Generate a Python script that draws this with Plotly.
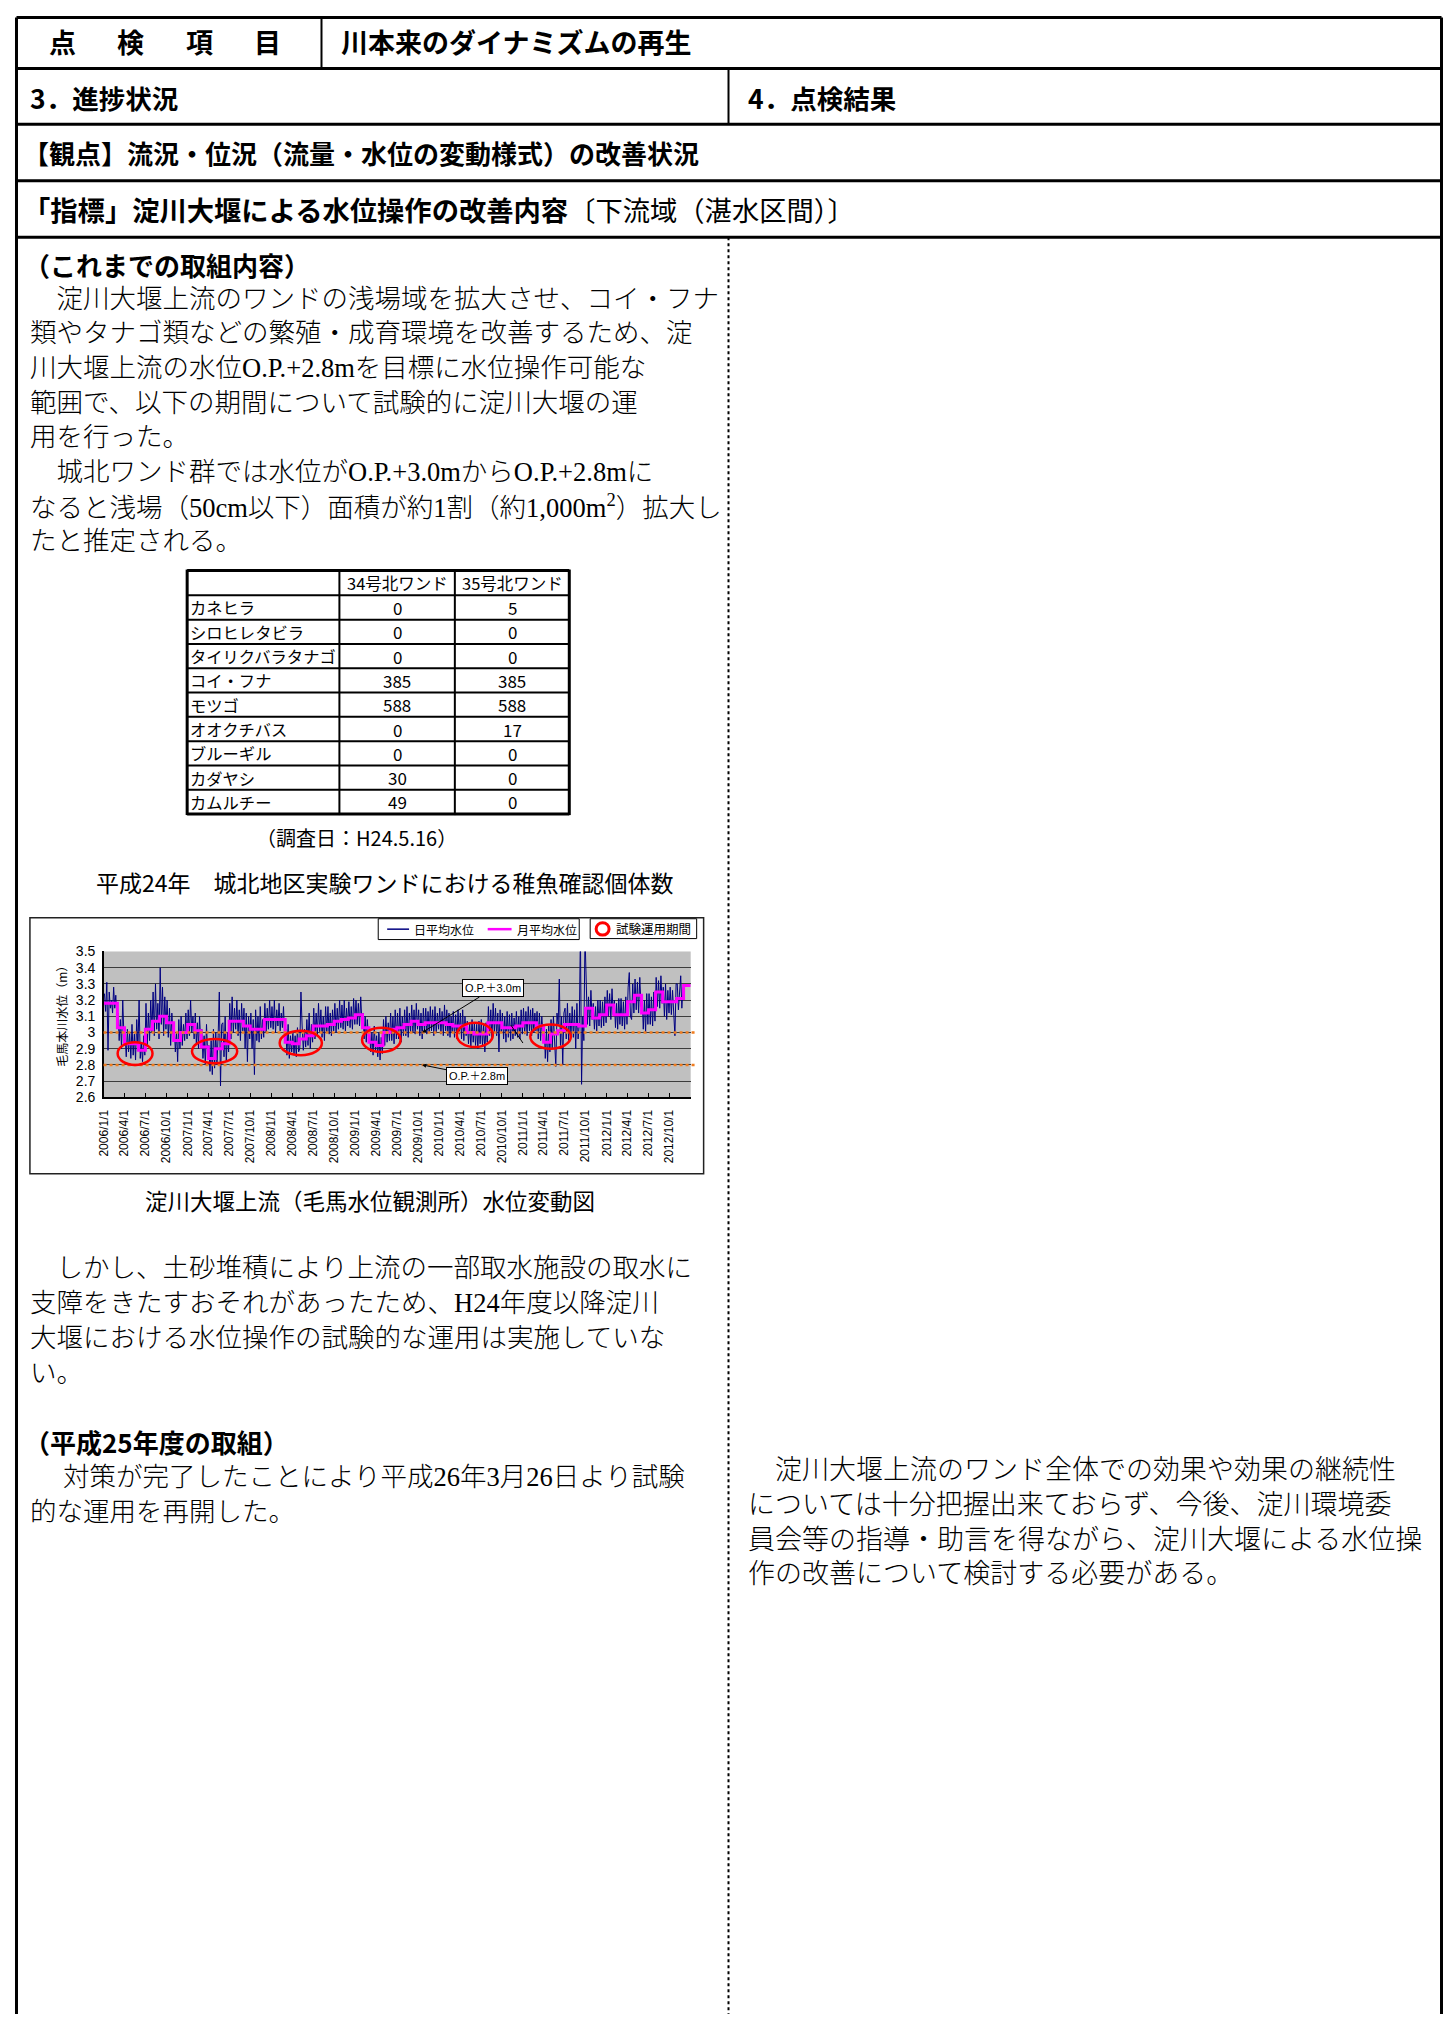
import pandas as pd
import plotly.graph_objects as go

# the page body keeps its 8px margin, so the figure sits at (8, 8) on the page
OX, OY = 8, 8
W, H = 1435, 2006
PAGE_H = 2022


def px(x):
    return (x - OX) / W


def py(y):
    return 1 - (y - OY) / H


GOTHIC = "Noto Sans CJK JP"
BODY = "Liberation Serif, Noto Sans CJK JP"
ARIAL = "Liberation Sans, Noto Sans CJK JP"

# ---------------- table: 稚魚確認個体数 (H24.5.16)
fish = ["カネヒラ", "シロヒレタビラ", "タイリクバラタナゴ", "コイ・フナ", "モツゴ",
        "オオクチバス", "ブルーギル", "カダヤシ", "カムルチー"]
wand34 = [0, 0, 0, 385, 588, 0, 0, 30, 49]
wand35 = [5, 0, 0, 385, 588, 17, 0, 0, 0]
table_head = ["", "34号北ワンド", "35号北ワンド"]

# ---------------- 毛馬水位 (m), monthly means 2006/1 - 2012/12
monthly_2006 = [3.18, 3.18, 3.03, 2.93, 2.93, 2.89, 3.02, 3.07, 3.10, 3.06, 2.95, 3.00]
monthly_2007 = [3.05, 3.01, 2.91, 2.84, 2.90, 2.93, 3.07, 3.07, 3.04, 3.02, 3.02, 3.08]
monthly_2008 = [3.08, 3.08, 2.94, 2.93, 2.96, 2.98, 3.04, 3.04, 3.05, 3.07, 3.08, 3.09]
monthly_2009 = [3.11, 3.03, 2.94, 2.92, 3.00, 3.02, 3.03, 3.05, 3.07, 3.05, 3.06, 3.06]
monthly_2010 = [3.06, 3.05, 3.04, 3.04, 3.00, 2.99, 2.99, 3.06, 3.06, 3.03, 3.03, 3.04]
monthly_2011 = [3.06, 3.06, 3.04, 2.94, 2.99, 3.01, 3.05, 3.05, 3.04, 3.15, 3.09, 3.11]
monthly_2012 = [3.17, 3.11, 3.11, 3.19, 3.23, 3.12, 3.14, 3.25, 3.19, 3.19, 3.21, 3.29]

# daily levels, read roughly as 6 readings per month
daily_2006 = [
    3.24, 3.13, 3.31, 2.89, 3.25, 3.15,
    3.20, 3.12, 3.28, 3.15, 3.23, 3.10,
    3.12, 2.95, 3.08, 2.90, 3.20, 2.98,
    2.98, 2.85, 3.02, 2.88, 3.00, 2.84,
    3.05, 2.86, 2.99, 2.83, 3.08, 2.90,
    3.20, 2.84, 2.93, 2.82, 2.98, 2.86,
    3.18, 2.92, 3.12, 2.95, 3.20, 3.00,
    3.25, 2.98, 3.30, 3.02, 3.18, 2.96,
    3.40, 3.05, 3.28, 2.98, 3.22, 3.02,
    3.20, 2.97, 3.15, 2.92, 3.12, 2.99,
    3.05, 2.88, 3.00, 2.82, 3.08, 2.90,
    3.10, 2.92, 3.05, 2.95, 3.12, 2.96]
daily_2007 = [
    3.14, 2.98, 3.20, 3.00, 3.10, 2.96,
    3.12, 2.93, 3.06, 2.90, 3.10, 2.95,
    3.02, 2.84, 2.98, 2.80, 3.05, 2.86,
    2.92, 2.76, 2.95, 2.74, 3.02, 2.78,
    3.00, 2.80, 2.98, 3.25, 2.67, 3.05,
    3.06, 2.85, 3.10, 2.82, 3.00, 2.88,
    3.18, 2.96, 3.22, 3.00, 3.15, 3.02,
    3.20, 2.98, 3.14, 2.95, 3.18, 3.01,
    3.15, 2.90, 3.12, 2.82, 3.10, 2.96,
    3.12, 2.90, 3.08, 2.74, 3.14, 2.95,
    3.10, 2.94, 3.16, 2.96, 3.08, 2.97,
    3.18, 3.00, 3.15, 3.02, 3.20, 3.03]
daily_2008 = [
    3.16, 3.02, 3.20, 3.00, 3.14, 3.04,
    3.18, 3.01, 3.12, 3.03, 3.16, 2.98,
    3.02, 2.86, 3.05, 2.84, 2.98, 2.88,
    3.00, 2.86, 2.98, 2.85, 3.03, 2.88,
    2.90, 3.25, 3.04, 2.89, 3.02, 2.91,
    3.08, 2.92, 3.12, 2.90, 3.05, 2.94,
    3.15, 2.96, 3.12, 2.98, 3.18, 3.00,
    3.14, 2.97, 3.10, 2.95, 3.16, 3.00,
    3.16, 2.99, 3.12, 2.98, 3.14, 3.01,
    3.18, 3.00, 3.15, 3.02, 3.20, 3.03,
    3.17, 3.02, 3.20, 3.01, 3.15, 3.04,
    3.19, 3.03, 3.16, 3.02, 3.21, 3.05]
daily_2009 = [
    3.20, 3.05, 3.18, 3.04, 3.22, 3.06,
    3.12, 2.96, 3.10, 2.94, 3.08, 2.98,
    3.02, 2.88, 3.00, 2.86, 3.04, 2.89,
    2.98, 2.85, 3.00, 2.83, 2.97, 2.87,
    3.08, 2.92, 3.10, 2.94, 3.06, 2.95,
    3.12, 2.95, 3.10, 2.93, 3.14, 2.96,
    3.12, 2.96, 3.15, 2.94, 3.10, 2.98,
    3.14, 2.98, 3.16, 2.97, 3.12, 3.00,
    3.17, 3.00, 3.14, 2.99, 3.18, 3.02,
    3.14, 2.98, 3.12, 2.96, 3.15, 3.00,
    3.15, 2.99, 3.13, 3.00, 3.16, 3.01,
    3.14, 2.98, 3.16, 3.00, 3.12, 3.02]
daily_2010 = [
    3.15, 2.99, 3.13, 2.98, 3.17, 3.01,
    3.14, 2.98, 3.12, 2.97, 3.10, 3.00,
    3.13, 2.97, 3.11, 2.96, 3.14, 2.99,
    3.12, 2.96, 3.14, 2.95, 3.10, 2.98,
    3.07, 2.93, 3.06, 2.91, 3.08, 2.94,
    3.06, 2.92, 3.05, 2.90, 3.07, 2.93,
    3.08, 2.92, 3.05, 2.88, 3.06, 2.94,
    3.16, 2.98, 3.14, 2.96, 3.18, 3.00,
    3.15, 2.98, 3.12, 2.88, 3.14, 3.00,
    3.12, 2.96, 3.10, 2.94, 3.13, 2.97,
    3.11, 2.95, 3.12, 2.96, 3.09, 2.98,
    3.13, 2.97, 3.10, 2.96, 3.14, 2.99]
daily_2011 = [
    3.15, 2.99, 3.13, 2.98, 3.16, 3.01,
    3.14, 2.98, 3.15, 3.00, 3.12, 3.01,
    3.13, 2.96, 3.12, 2.95, 3.10, 2.98,
    3.05, 2.84, 3.02, 2.82, 3.04, 2.88,
    3.08, 2.90, 3.10, 2.92, 2.79, 3.12,
    3.05, 3.33, 2.92, 3.10, 2.80, 3.12,
    3.15, 2.96, 3.18, 2.95, 3.12, 2.98,
    3.16, 2.97, 3.14, 2.90, 3.18, 2.96,
    3.05, 3.62, 2.68, 3.10, 2.95, 3.60,
    3.25, 3.05, 3.22, 3.04, 3.26, 3.08,
    3.18, 3.02, 3.16, 3.01, 3.20, 3.04,
    3.20, 3.03, 3.19, 3.04, 3.22, 3.06]
daily_2012 = [
    3.26, 3.10, 3.24, 3.08, 3.27, 3.11,
    3.20, 3.03, 3.18, 3.02, 3.21, 3.05,
    3.21, 3.04, 3.19, 3.02, 3.22, 3.05,
    3.28, 3.37, 3.10, 3.08, 3.30, 3.12,
    3.33, 3.14, 3.31, 3.12, 3.34, 3.16,
    3.22, 3.02, 3.20, 3.00, 3.24, 3.05,
    3.24, 3.05, 3.22, 3.04, 3.25, 3.07,
    3.34, 3.16, 3.32, 3.15, 3.35, 3.18,
    3.28, 3.10, 3.30, 3.08, 3.26, 3.12,
    3.28, 3.11, 3.26, 3.12, 2.98, 3.30,
    3.30, 3.14, 3.28, 3.35, 3.15, 3.28]

# 試験運用期間 (circled on the chart)
test_start = ["2006-03-02", "2007-01-20", "2008-02-06", "2009-01-30", "2010-03-19", "2011-02-02"]
test_end = ["2006-08-01", "2007-08-05", "2008-08-08", "2009-07-17", "2010-08-23", "2011-07-29"]
test_low = [2.80, 2.81, 2.86, 2.88, 2.91, 2.90]
test_high = [2.94, 2.96, 3.01, 3.03, 3.06, 3.05]

ref_levels = [3.0, 2.8]
y_ticks = [2.6, 2.7, 2.8, 2.9, 3.0, 3.1, 3.2, 3.3, 3.4, 3.5]
y_ticktext = ["2.6", "2.7", "2.8", "2.9", "3", "3.1", "3.2", "3.3", "3.4", "3.5"]
years = [2006, 2007, 2008, 2009, 2010, 2011, 2012]
quarter_months = [1, 4, 7, 10]
x_tickvals = [f"{y}-{m:02d}-01" for y in years for m in quarter_months]
x_ticktext = [f"{y}/{m}/1" for y in years for m in quarter_months]

monthly = (monthly_2006 + monthly_2007 + monthly_2008 + monthly_2009
           + monthly_2010 + monthly_2011 + monthly_2012)
daily = daily_2006 + daily_2007 + daily_2008 + daily_2009 + daily_2010 + daily_2011 + daily_2012

month_starts = pd.date_range("2006-01-01", "2013-01-01", freq="MS")
per_month = 6
daily_x = []
for i in range(len(daily) // per_month):
    s, e = month_starts[i], month_starts[i + 1]
    for j in range(per_month):
        daily_x.append(s + (e - s) * (j + 0.5) / per_month)

fig = go.Figure()
fig.add_trace(go.Scatter(x=daily_x, y=daily, mode="lines", name="日平均水位",
                         line=dict(color="#000080", width=1)))
fig.add_trace(go.Scatter(x=month_starts, y=monthly + [monthly[-1]], mode="lines", name="月平均水位",
                         line=dict(color="#FF00FF", width=3, shape="hv")))

shapes = []
ann = []


def line(x0, y0, x1, y1, w=3, color="black", dash="solid"):
    shapes.append(dict(type="line", xref="paper", yref="paper", x0=px(x0), x1=px(x1),
                       y0=py(y0), y1=py(y1), line=dict(color=color, width=w, dash=dash)))


def text(x, y, s, size, family=GOTHIC, anchor="left", angle=0, weight=None):
    f = dict(family=family, size=size, color="black")
    if weight:
        f["weight"] = weight
    ann.append(dict(x=px(x), y=py(y), xref="paper", yref="paper", text=s, showarrow=False,
                    xanchor=anchor, yanchor="middle", textangle=angle, font=f))


# ---- page frame (left/top edge clipped by the body margin)
LEFT, TOP, RIGHT = 9.5, 9.5, 1441.5
line(LEFT, TOP, RIGHT, TOP)
line(LEFT, TOP, LEFT, PAGE_H)
line(RIGHT, TOP, RIGHT, PAGE_H)
for yy in [61, 117, 174, 231]:
    line(LEFT, yy, RIGHT, yy)
line(316, TOP, 316, 61, w=2)
line(725, 61, 725, 117, w=2)
line(725, 231, 725, PAGE_H, w=2, dash="dot")

# ---- header rows
for ch, cx in zip(["点", "検", "項", "目"], [56, 124, 193, 262]):
    text(cx, 34, f"<b>{ch}</b>", 27, anchor="center")
text(334, 34, "<b>川本来のダイナミズムの再生</b>", 27)
text(21, 90, "<b>3．進捗状況</b>", 26.5)
text(743, 90, "<b>4．点検結果</b>", 26.5)
text(14, 146, "<b>【観点】流況・位況（流量・水位の変動様式）の改善状況</b>", 26)
text(14, 203, "<b>「指標」淀川大堰による水位操作の改善内容</b>〔下流域（湛水区間）〕", 27.3)

# ---- left column text
text(15, 258, "<b>（これまでの取組内容）</b>", 26)
body_top = [
    "　淀川大堰上流のワンドの浅場域を拡大させ、コイ・フナ",
    "類やタナゴ類などの繁殖・成育環境を改善するため、淀",
    "川大堰上流の水位O.P.+2.8mを目標に水位操作可能な",
    "範囲で、以下の期間について試験的に淀川大堰の運",
    "用を行った。",
    "　城北ワンド群では水位がO.P.+3.0mからO.P.+2.8mに",
    "なると浅場（50cm以下）面積が約1割（約1,000m<sup>2</sup>）拡大し",
    "たと推定される。",
]
for k, s in enumerate(body_top):
    text(21, 293 + 34.9 * k, s, 26.5, family=BODY, weight=300)

# ---- table
tx = [181, 334, 450, 565]
ty = [567, 592] + [592 + 24.5 * (i + 1) for i in range(len(fish))]
for i, xx in enumerate(tx):
    line(xx, ty[0] - 1, xx, ty[-1] + 1, w=3 if i in (0, len(tx) - 1) else 2)
for i, yy in enumerate(ty):
    line(tx[0], yy, tx[-1], yy, w=3 if i in (0, len(ty) - 1) else 2)
for c in range(1, 3):
    text((tx[c] + tx[c + 1]) / 2, (ty[0] + ty[1]) / 2, table_head[c], 16.5, anchor="center")
for r in range(len(fish)):
    cy = (ty[r + 1] + ty[r + 2]) / 2
    text(tx[0] + 1, cy, fish[r], 16.3)
    text((tx[1] + tx[2]) / 2, cy, str(wand34[r]), 17, anchor="center")
    text((tx[2] + tx[3]) / 2, cy, str(wand35[r]), 17, anchor="center")
text(351, 836, "（調査日：H24.5.16）", 20, anchor="center")
text(380, 881, "平成24年　城北地区実験ワンドにおける稚魚確認個体数", 23, anchor="center")

# ---- chart frame, legend, captions
shapes.append(dict(type="rect", xref="paper", yref="paper", x0=px(23), x1=px(700),
                   y0=py(917), y1=py(1175), line=dict(color="#222", width=1.5)))
shapes.append(dict(type="rect", xref="paper", yref="paper", x0=px(373), x1=px(575),
                   y0=py(918), y1=py(939), fillcolor="white", line=dict(color="black", width=1)))
line(382, 928.5, 404, 928.5, w=1.5, color="#000080")
text(407, 928.5, "日平均水位", 12)
line(483, 928.5, 507, 928.5, w=2.5, color="#FF00FF")
text(510, 928.5, "月平均水位", 12)
shapes.append(dict(type="rect", xref="paper", yref="paper", x0=px(586), x1=px(693),
                   y0=py(918), y1=py(938), fillcolor="white", line=dict(color="black", width=1)))
shapes.append(dict(type="circle", xref="paper", yref="paper", x0=px(592), x1=px(605),
                   y0=py(922), y1=py(934.5), line=dict(color="#FF0000", width=3)))
text(610, 928, "試験運用期間", 12.5)
text(55, 1013, "毛馬本川水位（m）", 12, anchor="center", angle=-90)
text(365, 1202, "淀川大堰上流（毛馬水位観測所）水位変動図", 22.5, anchor="center")

# reference levels O.P.+3.0m / +2.8m
for lv in ref_levels:
    shapes.append(dict(type="line", xref="paper", yref="y", x0=px(97), x1=px(693), y0=lv, y1=lv,
                       line=dict(color="#F07C1E", width=2.5, dash="dot")))
for s0, s1, lo, hi in zip(test_start, test_end, test_low, test_high):
    shapes.append(dict(type="circle", xref="x", yref="y", x0=s0, x1=s1, y0=lo, y1=hi,
                       line=dict(color="#FF0000", width=2.5)))
# small pointer line near 2010/11
shapes.append(dict(type="line", xref="x", yref="y", x0="2010-11-10", y0=3.045,
                   x1="2011-01-01", y1=2.935, line=dict(color="black", width=1)))

callout = dict(showarrow=True, arrowhead=2, arrowsize=0.8, arrowwidth=1, arrowcolor="black",
               bordercolor="black", borderwidth=1, borderpad=2, bgcolor="white",
               font=dict(family=ARIAL, size=11, color="black"))
ann.append(dict(x="2009-10-19", y=3.0, text="O.P.＋3.0m", ax=71, ay=-44, **callout))
ann.append(dict(x="2009-10-19", y=2.8, text="O.P.＋2.8m", ax=55, ay=11, **callout))

# ---- lower texts
body_low = [
    "　しかし、土砂堆積により上流の一部取水施設の取水に",
    "支障をきたすおそれがあったため、H24年度以降淀川",
    "大堰における水位操作の試験的な運用は実施していな",
    "い。",
]
for k, s in enumerate(body_low):
    text(21, 1270 + 35.2 * k, s, 26.5, family=BODY, weight=300)
text(15, 1445, "<b>（平成25年度の取組）</b>", 26)
text(21, 1481, "　 対策が完了したことにより平成26年3月26日より試験", 26.5, family=BODY, weight=300)
text(21, 1516, "的な運用を再開した。", 26.5, family=BODY, weight=300)

body_right = [
    "　淀川大堰上流のワンド全体での効果や効果の継続性",
    "については十分把握出来ておらず、今後、淀川環境委",
    "員会等の指導・助言を得ながら、淀川大堰による水位操",
    "作の改善について検討する必要がある。",
]
for k, s in enumerate(body_right):
    text(743, 1474 + 35 * k, s, 27, family=BODY, weight=300)

fig.update_layout(
    width=W, height=H, margin=dict(l=0, r=0, t=0, b=0),
    paper_bgcolor="white", plot_bgcolor="#C0C0C0", showlegend=False,
    shapes=shapes, annotations=ann,
    xaxis=dict(domain=[px(97.3), px(687)], type="date", range=["2006-01-01", "2013-01-01"],
               tickvals=x_tickvals, ticktext=x_ticktext, tickangle=-90,
               ticks="inside", ticklen=5, tickcolor="black", ticklabelstandoff=6,
               showline=True, linecolor="black", linewidth=1.5, showgrid=False, zeroline=False,
               tickfont=dict(family=ARIAL, size=12, color="black")),
    yaxis=dict(domain=[py(1098), py(951)], range=[2.6, 3.5],
               tickvals=y_ticks, ticktext=y_ticktext, ticks="", ticklabelstandoff=4,
               showline=True, linecolor="black", linewidth=1.5, zeroline=False,
               showgrid=True, gridcolor="#3c3c3c", gridwidth=1.3,
               tickfont=dict(family=ARIAL, size=14, color="black")),
)

fig.write_html("out.html", config={"displayModeBar": False})
